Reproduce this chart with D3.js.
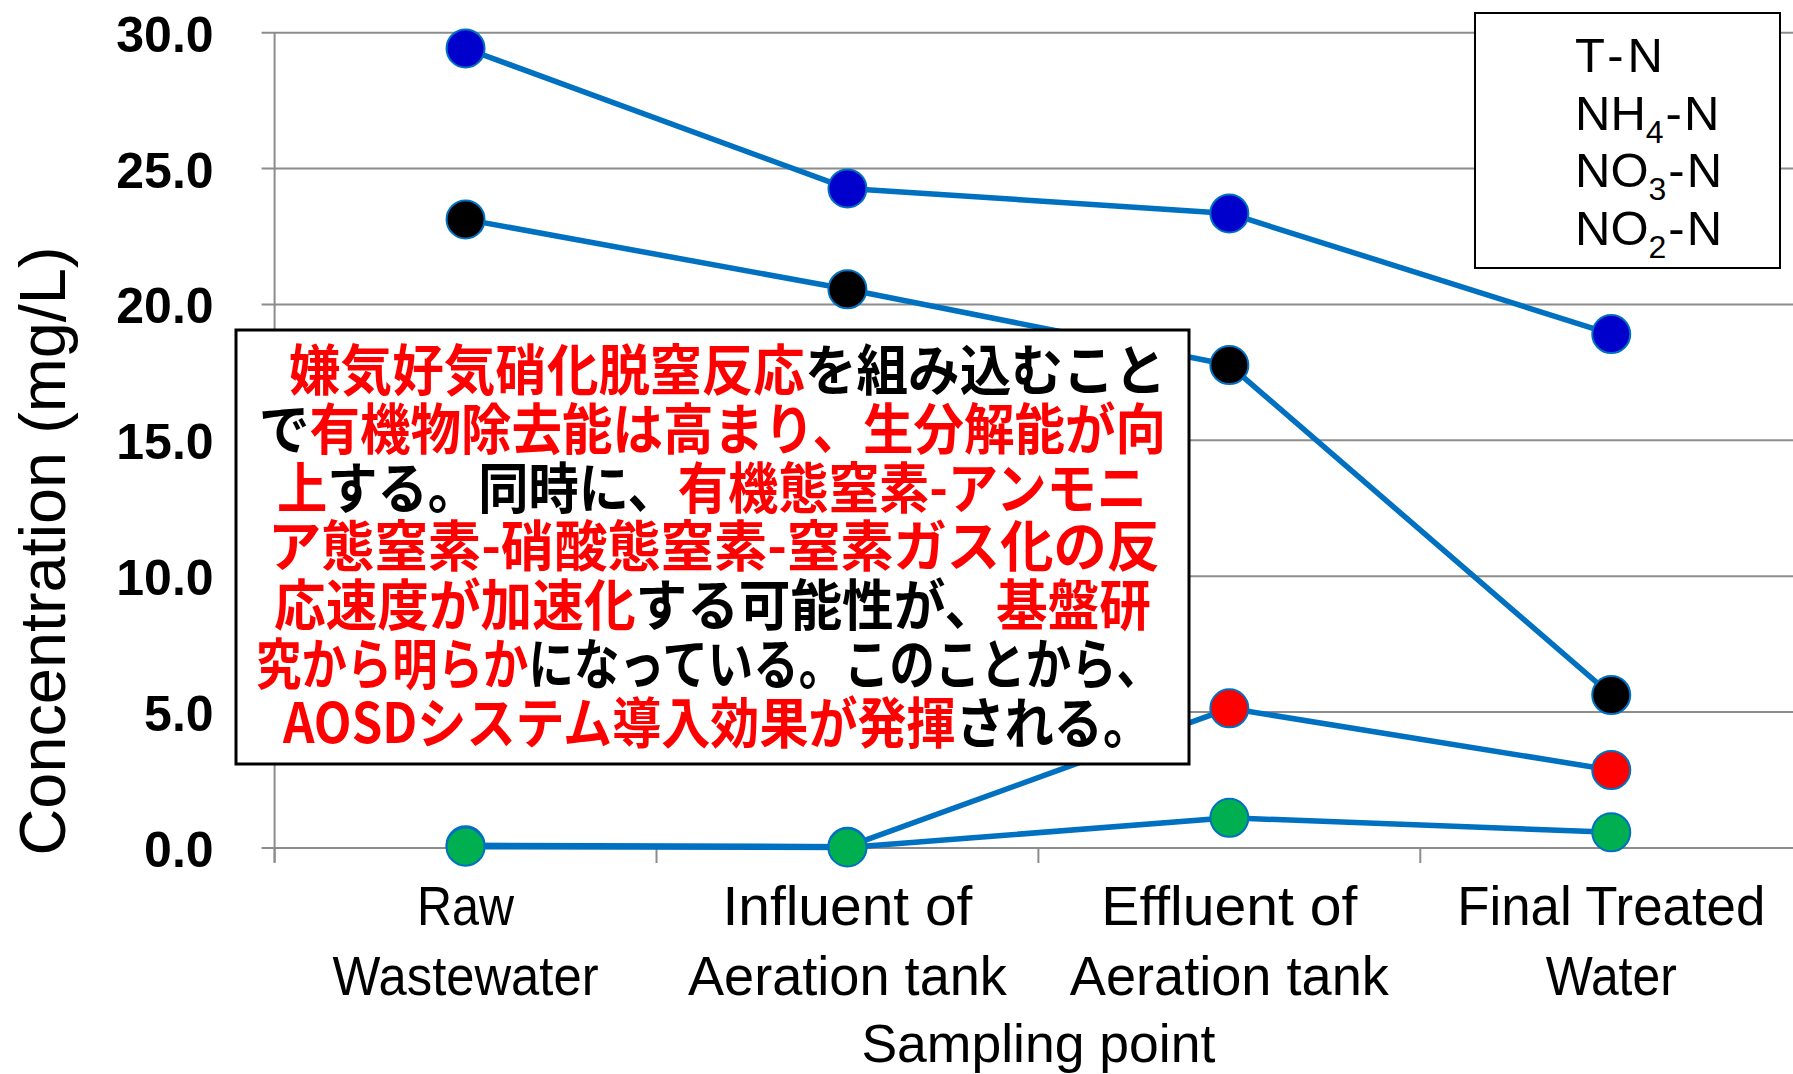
<!DOCTYPE html>
<html>
<head>
<meta charset="utf-8">
<script src="https://cdn.jsdelivr.net/npm/d3@7"></script>
<style>
  html, body { margin: 0; padding: 0; background: #fff; overflow: hidden; }
  svg { display: block; }
</style>
</head>
<body>
<svg id="chart" width="1793" height="1074"></svg>
<script>
// ---------- data ----------
const categories = ["Raw\nWastewater", "Influent of\nAeration tank", "Effluent of\nAeration tank", "Final Treated\nWater"];
const seriesNames = ["T-N", "NH4-N", "NO3-N", "NO2-N"];
const seriesColors = ["#0000CC", "#000000", "#FF0000", "#00B050"];
const tnValues  = [29.42, 24.27, 23.35, 18.91];
const nh4Values = [23.13, 20.56, 17.77, 5.63];
const no3Values = [0.10, 0.05, 5.14, 2.87];
const no2Values = [0.05, 0.02, 1.11, 0.58];
const yTicks = [0, 5, 10, 15, 20, 25, 30];
const xTitle = "Sampling point";
const yTitle = "Concentration (mg/L)";
// annotation text: [segment, isRed]
const noteLines = [
  [["嫌気好気硝化脱窒反応", true], ["を組み込むこと", false]],
  [["で", false], ["有機物除去能は高まり、生分解能が向", true]],
  [["上", true], ["する。同時に、", false], ["有機態窒素-アンモニ", true]],
  [["ア態窒素-硝酸態窒素-窒素ガス化の反", true]],
  [["応速度が加速化", true], ["する可能性が、", false], ["基盤研", true]],
  [["究から明らか", true], ["になっている。このことから、", false]],
  [["AOSDシステム導入効果が発揮", true], ["される。", false]]
];

const seriesValues = [tnValues, nh4Values, no3Values, no2Values];

// ---------- layout (pixel extents) ----------
const noteExtents = [[289, 1166], [259, 1166], [277, 1147], [268, 1160], [274, 1151], [256, 1162], [283, 1152]];
const catLabelWidths = { "Raw": 97, "Wastewater": 266, "Influent of": 250, "Aeration tank": 319, "Effluent of": 256, "Final Treated": 308, "Water": 131 };

const svg = d3.select("#chart");
const left = 274.6, bandStep = 381.9;
const x = d3.scaleBand().domain(categories).range([left, left + bandStep * categories.length]).padding(0);
const y = d3.scaleLinear().domain([0, 30]).range([848, 32.7]);
const latin = "'Liberation Sans', Arial, sans-serif";
const cjk = "'Noto Sans CJK JP', 'Noto Sans CJK SC', sans-serif";
const lineColor = "#0070C0";
const gridColor = "#8c8c8c";

// gridlines + y ticks
const yAxis = d3.axisLeft(y).tickValues(yTicks).tickSize(0).tickFormat(d3.format(".1f"));
svg.append("g").selectAll("line.grid").data(yTicks).join("line")
  .attr("x1", left - 13).attr("x2", 1793)
  .attr("y1", d => y(d)).attr("y2", d => y(d))
  .attr("stroke", gridColor).attr("stroke-width", 2);

const gy = svg.append("g").attr("transform", `translate(${left},0)`).call(yAxis);
gy.select(".domain").remove();
gy.selectAll("text")
  .attr("x", -61).attr("dy", "0.37em")
  .attr("font-family", latin).attr("font-size", 50).attr("font-weight", "bold")
  .attr("fill", "#000");

// y axis line
svg.append("line").attr("x1", left).attr("x2", left).attr("y1", y(30)).attr("y2", y(0) + 14)
  .attr("stroke", gridColor).attr("stroke-width", 2);

// x axis ticks (category boundaries)
const bounds = categories.map(c => x(c)).concat([x(categories[categories.length - 1]) + x.bandwidth()]);
svg.append("g").selectAll("line").data(bounds).join("line")
  .attr("x1", d => d).attr("x2", d => d)
  .attr("y1", y(0)).attr("y2", y(0) + 15)
  .attr("stroke", gridColor).attr("stroke-width", 2);

// category labels
const cx = c => x(c) + x.bandwidth() / 2;
const catG = svg.append("g");
categories.forEach(c => {
  c.split("\n").forEach((ln, i) => {
    const t = catG.append("text")
      .attr("x", cx(c)).attr("y", 925 + i * 70)
      .attr("text-anchor", "middle")
      .attr("font-family", latin).attr("font-size", 56)
      .attr("fill", "#000").text(ln);
    const w = catLabelWidths[ln] || t.node().getComputedTextLength() * 0.93;
    t.attr("textLength", w).attr("lengthAdjust", "spacingAndGlyphs");
  });
});

// axis titles
svg.append("text").attr("x", cx(categories[1]) + x.bandwidth() / 2).attr("y", 1062)
  .attr("text-anchor", "middle").attr("font-family", latin).attr("font-size", 54)
  .attr("textLength", 354).attr("lengthAdjust", "spacingAndGlyphs")
  .attr("fill", "#000").text(xTitle);

svg.append("text").attr("transform", "translate(65,551) rotate(-90)")
  .attr("text-anchor", "middle").attr("font-family", latin).attr("font-size", 65)
  .attr("textLength", 609).attr("lengthAdjust", "spacingAndGlyphs")
  .attr("fill", "#000").text(yTitle);

// series lines
const line = d3.line().x((d, i) => cx(categories[i])).y(d => y(d));
const plot = svg.append("g");
seriesValues.forEach((vals) => {
  plot.append("path").datum(vals).attr("d", line)
    .attr("fill", "none").attr("stroke", lineColor).attr("stroke-width", 5.5)
    .attr("stroke-linejoin", "round");
});
seriesValues.forEach((vals, si) => {
  plot.append("g").selectAll("circle").data(vals).join("circle")
    .attr("cx", (d, i) => cx(categories[i])).attr("cy", d => y(d))
    .attr("r", 19)
    .attr("fill", seriesColors[si]).attr("stroke", lineColor).attr("stroke-width", 2);
});

// annotation box
const box = { x: 236, y: 330, w: 953, h: 434 };
svg.append("rect").attr("x", box.x).attr("y", box.y).attr("width", box.w).attr("height", box.h)
  .attr("fill", "#fff").attr("stroke", "#000").attr("stroke-width", 3);
const noteG = svg.append("g");
noteLines.forEach((segs, i) => {
  const [x0, x1] = noteExtents[i];
  const t = noteG.append("text")
    .attr("x", x0).attr("y", 370 + i * 58.8 + 20)
    .attr("font-family", cjk).attr("font-size", 55).attr("font-weight", "bold")
    .attr("textLength", x1 - x0).attr("lengthAdjust", "spacingAndGlyphs");
  segs.forEach(([s, red]) => {
    t.append("tspan").attr("fill", red ? "#FF0000" : "#000").text(s);
  });
});

// legend (text only, as in reference)
svg.append("rect").attr("x", 1475).attr("y", 13).attr("width", 305).attr("height", 255)
  .attr("fill", "#fff").attr("stroke", "#000").attr("stroke-width", 2);
const legG = svg.append("g");
seriesNames.forEach((name, i) => {
  const t = legG.append("text").attr("x", 1575).attr("y", 72 + i * 57.7)
    .attr("font-family", latin).attr("font-size", 49).attr("fill", "#000");
  const m = name.match(/^([A-Z]+?)(\d?)-(.+)$/);
  t.append("tspan").text(m[1]);
  if (m[2]) {
    t.append("tspan").attr("font-size", 32).attr("dy", 13).text(m[2]);
    t.append("tspan").attr("dy", -13).attr("dx", 2).text("-");
    t.append("tspan").attr("dx", 2).text(m[3]);
  } else {
    t.append("tspan").attr("dx", 5).text("-");
    t.append("tspan").attr("dx", 4).text(m[3]);
  }
});
</script>
</body>
</html>
